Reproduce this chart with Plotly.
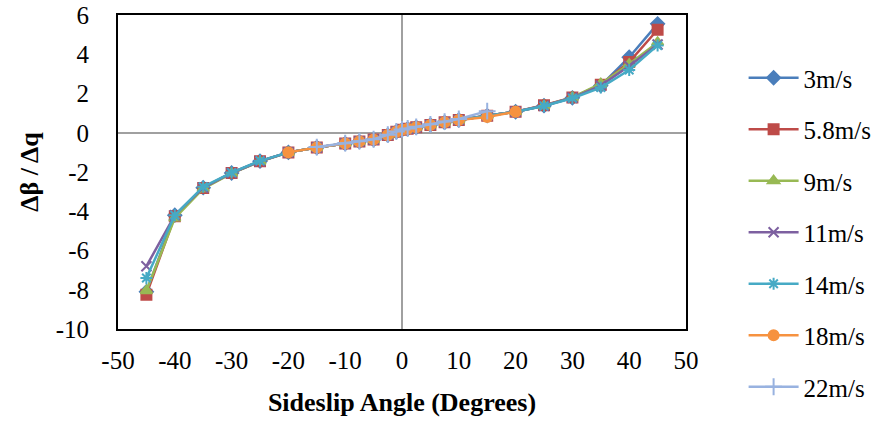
import plotly.graph_objects as go

# Sideslip angles (degrees)
angles_full = [-45, -40, -35, -30, -25, -20, -15, -10, -7.5, -5, -2.5, -1, 0,
               1, 2.5, 5, 7.5, 10, 15, 20, 25, 30, 35, 40, 45]
angles_18 = [-20, -15, -10, -7.5, -5, -2.5, -1, 0, 1, 2.5, 5, 7.5, 10, 15, 20]
angles_22 = [-15, -10, -7.5, -5, -2.5, -1, 0, 1, 2.5, 5, 7.5, 10, 15]

# Δβ / Δq for each wind speed
v3 = [-8.10, -4.20, -2.80, -2.05, -1.45, -1.00, -0.75, -0.55, -0.45, -0.35, -0.12, 0.05, 0.15,
      0.20, 0.28, 0.40, 0.53, 0.65, 0.87, 1.07, 1.38, 1.78, 2.40, 3.85, 5.55]
v58 = [-8.25, -4.25, -2.82, -2.05, -1.45, -1.00, -0.75, -0.55, -0.45, -0.35, -0.12, 0.05, 0.15,
       0.20, 0.28, 0.40, 0.53, 0.65, 0.87, 1.07, 1.40, 1.80, 2.45, 3.60, 5.25]
v9 = [-8.05, -4.35, -2.85, -2.07, -1.47, -1.00, -0.75, -0.55, -0.45, -0.35, -0.12, 0.05, 0.15,
      0.20, 0.28, 0.40, 0.53, 0.65, 0.87, 1.07, 1.38, 1.80, 2.50, 3.50, 4.60]
v11 = [-6.80, -4.20, -2.80, -2.05, -1.45, -1.00, -0.75, -0.55, -0.45, -0.35, -0.12, 0.05, 0.15,
       0.20, 0.28, 0.40, 0.53, 0.65, 0.87, 1.07, 1.38, 1.78, 2.40, 3.40, 4.50]
v14 = [-7.40, -4.20, -2.75, -2.03, -1.43, -1.00, -0.75, -0.55, -0.45, -0.35, -0.12, 0.05, 0.15,
       0.20, 0.28, 0.40, 0.53, 0.65, 0.87, 1.07, 1.36, 1.76, 2.30, 3.20, 4.45]
v18 = [-1.00, -0.75, -0.55, -0.45, -0.35, -0.12, 0.05, 0.15, 0.20, 0.28, 0.40, 0.53, 0.65, 0.80, 1.07]
v22 = [-0.73, -0.53, -0.43, -0.33, -0.10, 0.07, 0.17, 0.22, 0.30, 0.43, 0.57, 0.70, 1.10]

# Axis ticks, labelled with a plain hyphen for negatives
x_ticks = [-50, -40, -30, -20, -10, 0, 10, 20, 30, 40, 50]
y_ticks = [-10, -8, -6, -4, -2, 0, 2, 4, 6]

series = [
    ("3m/s", angles_full, v3, "#4A7EBB", "diamond", 10),
    ("5.8m/s", angles_full, v58, "#BE4B48", "square", 10),
    ("9m/s", angles_full, v9, "#98B954", "triangle-up", 10),
    ("11m/s", angles_full, v11, "#7D60A0", "x-thin", 10),
    ("14m/s", angles_full, v14, "#46AAC5", "asterisk-open", 10),
    ("18m/s", angles_18, v18, "#F69240", "circle", 10),
    ("22m/s", angles_22, v22, "#98B2E0", "cross-thin", 12),
]

FONT = "Liberation Serif, Times New Roman, serif"
FS = 25

fig = go.Figure()
for i, (name, xs, ys, color, symbol, size) in enumerate(series):
    fig.add_trace(go.Scatter(
        x=xs, y=ys, name=name, mode="lines+markers",
        legendgroup=f"g{i}",
        line=dict(color=color, width=2.5),
        marker=dict(symbol=symbol, size=size, color=color,
                    line=dict(color=color, width=2)),
    ))

fig.update_layout(
    width=880, height=429,
    margin=dict(l=118, r=194, t=15, b=100),
    paper_bgcolor="white", plot_bgcolor="white",
    font=dict(family=FONT, size=FS, color="black"),
    showlegend=True,
    legend=dict(
        xref="container", yref="container",
        x=0.845, y=1 - 55 / 429, xanchor="left", yanchor="top",
        font=dict(family=FONT, size=FS, color="black"),
        traceorder="grouped", tracegroupgap=16,
        itemwidth=50, maxheight=420,
        bgcolor="rgba(0,0,0,0)",
    ),
    xaxis=dict(
        range=[-50, 50], tickvals=x_ticks, ticktext=[str(v) for v in x_ticks],
        showgrid=False, automargin=False,
        zeroline=True, zerolinecolor="#A0A0A0", zerolinewidth=2,
        showline=True, linecolor="black", linewidth=2, mirror=True,
        ticks="", ticklabelstandoff=8,
        title=dict(text="<b>Sideslip Angle (Degrees)</b>", standoff=20,
                   font=dict(family=FONT, size=26)),
    ),
    yaxis=dict(
        range=[-10, 6], tickvals=y_ticks, ticktext=[str(v) for v in y_ticks],
        showgrid=False, automargin=False,
        zeroline=True, zerolinecolor="#A0A0A0", zerolinewidth=2,
        showline=True, linecolor="black", linewidth=2, mirror=True,
        ticks="", ticklabelstandoff=22,
        title=dict(text="<b>Δβ / Δq</b>", standoff=10,
                   font=dict(family=FONT, size=26)),
    ),
)

fig.write_html("out.html")
